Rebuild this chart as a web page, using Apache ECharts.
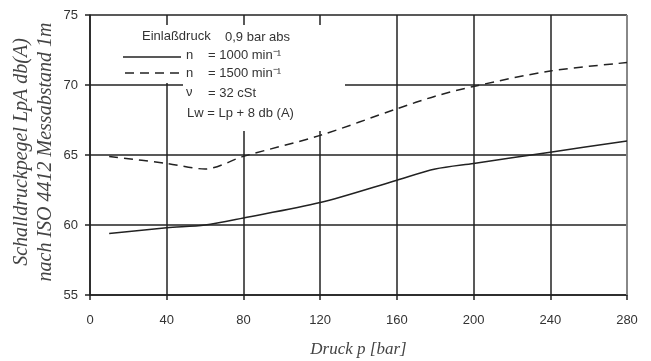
<!DOCTYPE html>
<html><head><meta charset="utf-8">
<script src="https://cdn.jsdelivr.net/npm/echarts@6/dist/echarts.min.js"></script>
<style>html,body{margin:0;padding:0;background:#fff}#c{width:651px;height:361px}</style>
</head><body><div id="c"></div>
<script>
var pressure = [10, 40, 60, 80, 120, 160, 180, 200, 240, 280];
var n1000 = [59.4, 59.8, 60.0, 60.5, 61.6, 63.2, 64.0, 64.4, 65.2, 66.0];
var n1500 = [64.9, 64.4, 64.0, 64.9, 66.4, 68.3, 69.2, 69.9, 71.0, 71.6];
var yTitle1 = 'Schalldruckpegel LpA db(A)';
var yTitle2 = 'nach ISO 4412 Messabstand 1m';
var xTitle = 'Druck p [bar]';

function pairs(xs, ys){ return xs.map(function(x,i){return [x, ys[i]];}); }
var chart = echarts.init(document.getElementById('c'));
function T(s, x, y){ return {type:'text', z:5, x:x, y:y, style:{text:s, font:'13px "Liberation Sans"', fill:'#333', textVerticalAlign:'middle'}}; }
chart.setOption({
  animation:false,
  grid:{left:90, right:24, top:15, bottom:66, containLabel:false, outerBoundsMode:'none'},
  xAxis:{type:'value', min:0, max:280, interval:40,
    axisLine:{show:true, lineStyle:{color:'#222', width:1.5}},
    axisTick:{show:true, length:5, lineStyle:{color:'#222', width:1.5}},
    axisLabel:{color:'#333', fontFamily:'Liberation Sans', fontSize:13, margin:19},
    splitLine:{show:true, lineStyle:{color:'#222', width:1.5}},
    name:xTitle, nameLocation:'middle', nameGap:46,
    nameTextStyle:{fontFamily:'Liberation Serif', fontStyle:'italic', fontSize:17, color:'#444'}
  },
  yAxis:{type:'value', min:55, max:75, interval:5,
    axisLine:{show:true, lineStyle:{color:'#222', width:1.5}},
    axisTick:{show:true, length:5, lineStyle:{color:'#222', width:1.5}},
    axisLabel:{color:'#333', fontFamily:'Liberation Sans', fontSize:13, margin:12},
    splitLine:{show:true, lineStyle:{color:'#222', width:1.5}}
  },
  graphic:[
    {type:'line', z:1, shape:{x1:627, y1:15, x2:627, y2:295}, style:{stroke:'#999', lineWidth:1.5}},
    {type:'rect', z:1, shape:{x:92, y:25, width:253, height:58}, style:{fill:'#fff'}},
    {type:'rect', z:1, shape:{x:183, y:82, width:162, height:49}, style:{fill:'#fff'}},
    {type:'text', z:5, x:34, y:152, rotation:Math.PI/2, style:{text:yTitle1+'\n'+yTitle2, font:'italic 20px "Liberation Serif"', fill:'#444', textAlign:'center', textVerticalAlign:'middle', lineHeight:24}},
    T('Einlaßdruck', 142, 36),
    T('0,9 bar abs', 225, 37),
    {type:'line', z:5, shape:{x1:123, y1:57, x2:181, y2:57}, style:{stroke:'#222', lineWidth:1.5}},
    T('n', 186, 55),
    T('= 1000 min⁻¹', 208, 55),
    {type:'line', z:5, shape:{x1:125, y1:73, x2:181, y2:73}, style:{stroke:'#222', lineWidth:1.5, lineDash:[9,6]}},
    T('n', 186, 73),
    T('= 1500 min⁻¹', 208, 73),
    T('ν', 186, 92),
    T('= 32 cSt', 208, 93),
    T('Lw = Lp + 8 db (A)', 187, 113)
  ],
  series:[
    {type:'line', z:3, data:pairs(pressure, n1000), smooth:0.3, showSymbol:false,
     lineStyle:{color:'#222', width:1.5}},
    {type:'line', z:3, data:pairs(pressure, n1500), smooth:0.3, showSymbol:false,
     lineStyle:{color:'#222', width:1.5, type:[9,6]}}
  ]
});
</script></body></html>
